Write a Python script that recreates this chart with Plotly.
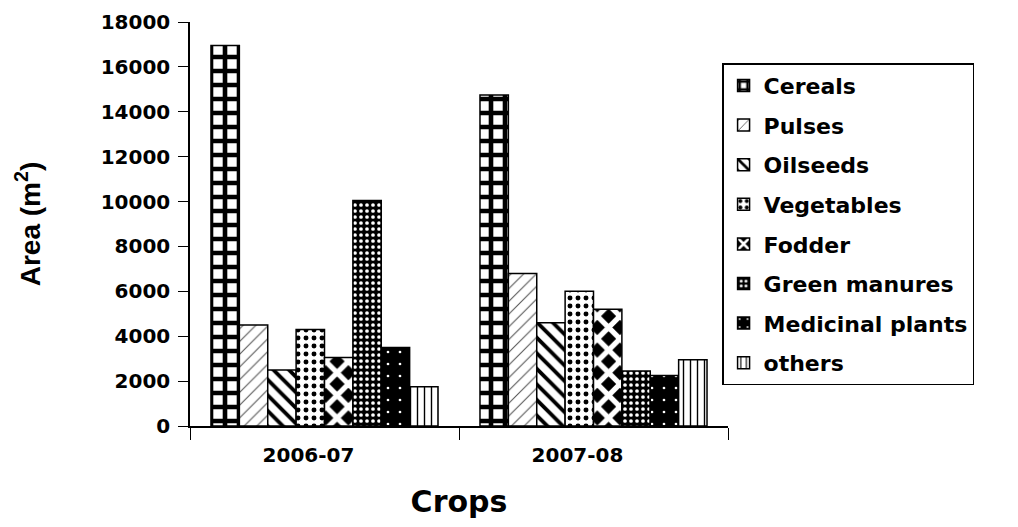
import plotly.graph_objects as go

years = ["2006-07", "2007-08"]
crops = ["Cereals", "Pulses", "Oilseeds", "Vegetables", "Fodder",
         "Green manures", "Medicinal plants", "others"]
area_2006_07 = [16950, 4500, 2500, 4300, 3050, 10050, 3500, 1750]
area_2007_08 = [14750, 6800, 4600, 6000, 5200, 2450, 2250, 2950]
y_ticks = [0, 2000, 4000, 6000, 8000, 10000, 12000, 14000, 16000, 18000]
y_tick_text = [str(v) for v in y_ticks]

# pattern styles per crop: (shape, background, foreground, size, solidity)
styles = [
    ("+", "white", "black", 14, 0.55),
    ("/", "white", "#555555", 9, 0.12),
    ("\\", "white", "black", 11, 0.35),
    (".", "white", "black", 8, 0.3),
    ("x", "black", "white", 16, 0.55),
    (".", "black", "white", 6, 0.3),
    (".", "black", "white", 12, 0.04),
    ("|", "white", "black", 7, 0.2),
]

fig = go.Figure()
for i, crop in enumerate(crops):
    shape, bg, fg, size, sol = styles[i]
    fig.add_trace(go.Bar(
        x=years,
        y=[area_2006_07[i], area_2007_08[i]],
        name=crop,
        legendgroup=crop,
        marker=dict(
            color=bg,
            line=dict(color="black", width=1.5),
            pattern=dict(shape=shape, fgcolor=fg, fgopacity=1, size=size,
                         solidity=sol, fillmode="overlay"),
        ),
    ))

tick_font = dict(family="DejaVu Sans", size=20, color="black", weight="bold")

fig.update_layout(
    width=1002, height=511,
    margin=dict(l=182, r=282, t=14, b=93),
    paper_bgcolor="white", plot_bgcolor="white",
    barmode="group", bargap=0.156, bargroupgap=0,
    showlegend=True,
    legend=dict(
        x=0.989, y=0.898, xanchor="left", yanchor="top",
        bordercolor="black", borderwidth=1.5, bgcolor="white",
        font=dict(family="DejaVu Sans", size=22, color="black", weight="bold"),
        traceorder="grouped", tracegroupgap=8,
        itemwidth=30,
    ),
    xaxis=dict(
        type="category", automargin=False,
        showline=True, linecolor="black", linewidth=1.5,
        ticks="outside", tickson="boundaries", ticklen=12, tickcolor="black",
        tickfont=tick_font, ticklabelshift=-16, ticklabelstandoff=10,
        title=dict(text="Crops", font=dict(family="DejaVu Sans", size=30,
                                           color="black", weight="bold"),
                   standoff=49),
    ),
    yaxis=dict(
        range=[0, 18000], tickvals=y_ticks, ticktext=y_tick_text,
        automargin=False,
        showline=True, linecolor="black", linewidth=1.5,
        ticks="outside", ticklen=10, tickcolor="black",
        showgrid=False, zeroline=False,
        tickfont=tick_font, ticklabelstandoff=4,
        title=dict(text="Area (m<sup>2</sup>)",
                   font=dict(family="Liberation Sans", size=28,
                             color="black", weight="bold"),
                   standoff=52),
    ),
)

fig.write_html("out.html")
